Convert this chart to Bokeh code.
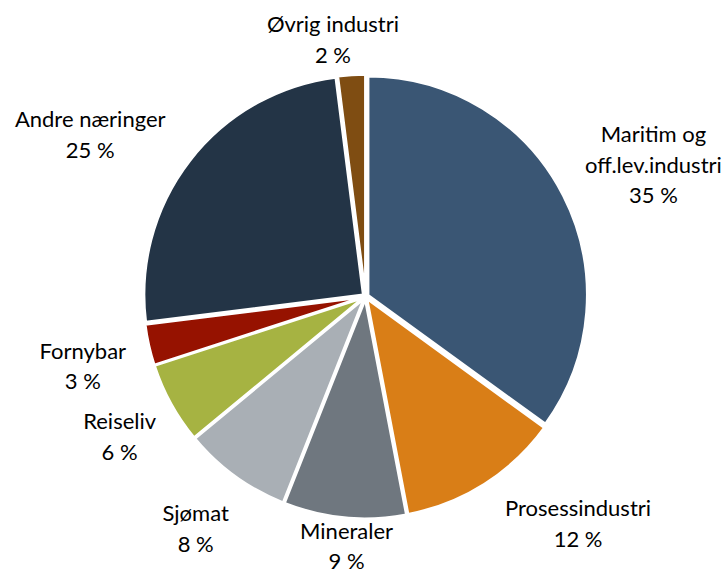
import math
from bokeh.plotting import figure
from bokeh.models import Range1d, ColumnDataSource
from bokeh.embed import file_html
from bokeh.resources import INLINE
from bokeh.core.properties import value

# ---- data ----
categories = ["Maritim og\noff.lev.industri", "Prosessindustri", "Mineraler", "Sjømat",
              "Reiseliv", "Fornybar", "Andre næringer", "Øvrig industri"]
shares = [35, 12, 9, 8, 6, 3, 25, 2]
colors = ["#3A5674", "#D97E17", "#6F777F", "#A9AFB5",
          "#A6B342", "#961200", "#233446", "#7F4D12"]

# ---- layout ----
W, H = 726, 574
CX, CY = 365, 278
R = 219
EXPLODE = 3
FS = 22
LH = 1.13
RX, RY = 244, 229
K = 3.0
# small per-label pixel nudges (dx, dy) for placement fine-tuning
NUDGE = [(0, -15), (6, -4), (17, 8), (8, -17), (8, 0), (-2, 0), (-9, -7), (-5, 0)]

def text_width(s):
    narrow = set("iljtfr. ")
    wide = set("æmwMW")
    w = 0
    for ch in s:
        if ch in narrow:
            w += 0.30
        elif ch in wide:
            w += 0.85
        elif ch.isupper() or ch in "%":
            w += 0.62
        else:
            w += 0.53
    return w * FS

total = float(sum(shares))
xs, ys, starts, ends = [], [], [], []
lx, ly, ltxt = [], [], []
cum = 0.0
for i, (cat, v) in enumerate(zip(categories, shares)):
    f0 = cum / total
    f1 = (cum + v) / total
    cum += v
    mid = (f0 + f1) / 2 * 2 * math.pi  # clockwise from top
    ux, uy = math.sin(mid), math.cos(mid)
    xs.append(CX + EXPLODE * ux)
    ys.append(CY + EXPLODE * uy)
    starts.append(math.pi / 2 - f0 * 2 * math.pi)
    ends.append(math.pi / 2 - f1 * 2 * math.pi)
    label = f"{cat}\n{v} %"
    lines = label.split("\n")
    w = max(text_width(l) for l in lines)
    h = len(lines) * 29
    fx = max(-1.0, min(1.0, K * ux))
    fy = max(-1.0, min(1.0, K * uy))
    ndx, ndy = NUDGE[i]
    lx.append(CX + RX * ux + fx * w / 2 + ndx)
    ly.append(CY + RY * uy + fy * h / 2 + ndy)
    ltxt.append(label)

src = ColumnDataSource(dict(x=xs, y=ys, start=starts, end=ends, color=colors))
lsrc = ColumnDataSource(dict(x=lx, y=ly, text=ltxt))

p = figure(width=W, height=H, output_backend="svg", toolbar_location=None,
           x_range=Range1d(0, W), y_range=Range1d(0, H), min_border=0)
p.axis.visible = False
p.grid.visible = False
p.outline_line_color = None
p.background_fill_color = "white"
p.border_fill_color = "white"

p.wedge(x="x", y="y", radius=R, start_angle="start", end_angle="end",
        direction="clock", fill_color="color", line_color="white", line_width=2.5,
        source=src)

p.text(x="x", y="y", text="text", source=lsrc, text_align="center",
       text_baseline="middle", text_font=value("Lato"), text_font_size=f"{FS}px",
       text_line_height=LH, text_color="#000000")

open("out.html", "w").write(file_html(p, INLINE))
